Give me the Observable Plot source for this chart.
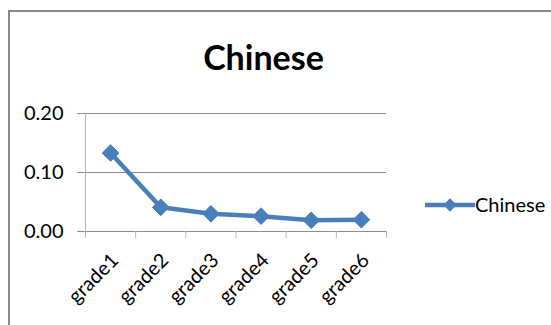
<!DOCTYPE html>
<html>
<head>
<meta charset="utf-8">
<script src="https://cdn.jsdelivr.net/npm/d3@7"></script>
<script src="https://cdn.jsdelivr.net/npm/@observablehq/plot@0.6"></script>
<style>
  html, body { margin: 0; padding: 0; background: #fff; }
  #chart { position: relative; width: 551px; height: 325px; overflow: hidden; font-family: Lato, "Open Sans", sans-serif; }
  #frame { position: absolute; left: 8px; top: 10px; width: 600px; height: 400px;
           border-top: 2px solid #8a8a8a; border-left: 2px solid #8a8a8a; box-sizing: border-box; }
  #title { position: absolute; left: 0; width: 527px; top: 36px; text-align: center;
           font-weight: bold; font-size: 34px; color: #000; }
  #plot { position: absolute; left: 0; top: 0; }
  #legend { position: absolute; left: 420px; top: 192px; }
</style>
</head>
<body>
<div id="chart">
  <div id="frame"></div>
  <div id="plot"></div>
  <div id="title">Chinese</div>
  <div id="legend"></div>
</div>
<script>
// Series: share per grade
const categories = ["grade1", "grade2", "grade3", "grade4", "grade5", "grade6"];
const values = [0.133, 0.041, 0.030, 0.026, 0.019, 0.020];
const yTicks = [0, 0.1, 0.2];
const seriesName = "Chinese";

const blue = "#4a7ebb";
const gridGray = "#8c8c8c";
const axisGray = "#b4b4b4";

const data = categories.map((c, i) => ({category: c, pos: i + 0.5, value: values[i]}));

const plot = Plot.plot({
  width: 551,
  height: 325,
  marginLeft: 85,
  marginRight: 165,
  marginTop: 113,
  marginBottom: 94,
  style: {fontFamily: "Lato, 'Open Sans', sans-serif", fontSize: "20px", color: "#000", background: "transparent"},
  x: {domain: [0, categories.length], axis: null},
  y: {domain: [0, 0.2], axis: null},
  marks: [
    // horizontal gridlines
    Plot.ruleY(yTicks, {stroke: gridGray, strokeWidth: 1}),
    // value axis: outward ticks + labels
    Plot.axisY({ticks: yTicks, tickFormat: d3.format(".2f"), tickSize: 8, tickPadding: 14,
                label: null, stroke: gridGray, strokeOpacity: 1, fontSize: 20}),
    // value axis line
    Plot.ruleX([0], {stroke: axisGray, strokeWidth: 1}),
    // category tick marks between categories
    Plot.axisX({ticks: d3.range(categories.length + 1), tickFormat: () => "", tickSize: 7,
                label: null, stroke: axisGray, strokeOpacity: 1}),
    // category labels
    Plot.text(data, {x: "pos", text: "category", frameAnchor: "bottom", rotate: -45,
                     textAnchor: "end", lineAnchor: "top", dx: -1, dy: 20, fontSize: 20, fill: "#000"}),
    Plot.line(data, {x: "pos", y: "value", stroke: blue, strokeWidth: 4.5, strokeLinejoin: "round"}),
    Plot.dot(data, {x: "pos", y: "value", symbol: "diamond2", r: 7.5, fill: blue, stroke: blue, strokeWidth: 1})
  ]
});
document.getElementById("plot").appendChild(plot);

// legend swatch and label
const leg = d3.select("#legend").append("svg").attr("width", 131).attr("height", 30)
  .style("overflow", "visible").style("font-family", "Lato, 'Open Sans', sans-serif");
leg.append("line").attr("x1", 5).attr("x2", 55).attr("y1", 13).attr("y2", 13)
  .attr("stroke", blue).attr("stroke-width", 4.5);
leg.append("path").attr("d", d3.symbol(d3.symbolDiamond2, Math.PI * 6 * 6)())
  .attr("transform", "translate(30,13)").attr("fill", blue);
leg.append("text").attr("x", 55).attr("y", 13).attr("dy", "0.35em")
  .attr("font-size", 20).attr("fill", "#000").text(seriesName);
</script>
</body>
</html>
